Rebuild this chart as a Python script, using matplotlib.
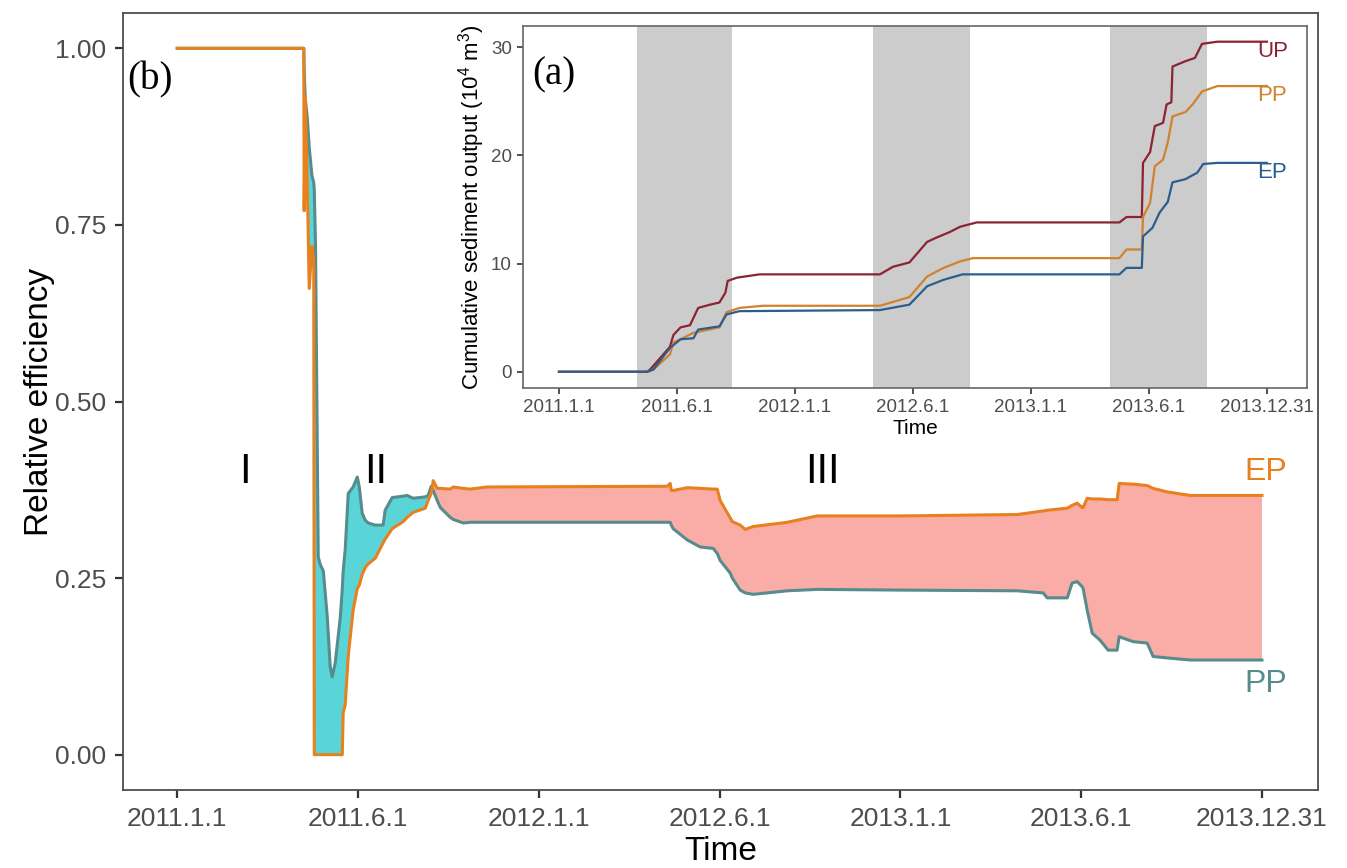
import numpy as np
import matplotlib
matplotlib.use("Agg")
import matplotlib.pyplot as plt

plt.rcParams['font.family'] = ['Liberation Sans', 'DejaVu Sans']
plt.rcParams['mathtext.default'] = 'regular'

# x positions are in half-year tick units: 0 = 2011.1.1 ... 6 = 2013.12.31
tick_labels = ['2011.1.1', '2011.6.1', '2012.1.1', '2012.6.1', '2013.1.1', '2013.6.1', '2013.12.31']

# ---- panel (b): relative efficiency
t = [0.00, 0.700, 0.702, 0.708, 0.720, 0.730, 0.745, 0.755, 0.758, 0.765,
     0.780, 0.790, 0.808, 0.830, 0.846, 0.857, 0.874, 0.902, 0.913, 0.918,
     0.929, 0.946, 0.973, 0.996, 1.007, 1.023, 1.040, 1.056, 1.095, 1.139,
     1.150, 1.189, 1.250, 1.272, 1.305, 1.372, 1.388, 1.405, 1.416, 1.438,
     1.455, 1.510, 1.527, 1.582, 1.621, 1.715, 2.710, 2.727, 2.733, 2.743,
     2.821, 2.893, 2.965, 2.987, 3.003, 3.059, 3.070, 3.114, 3.142, 3.186,
     3.374, 3.540, 4.000, 4.646, 4.790, 4.812, 4.923, 4.950, 4.978, 5.005,
     5.011, 5.033, 5.061, 5.105, 5.149, 5.199, 5.210, 5.288, 5.365, 5.398,
     5.476, 5.603, 6.000]
ep = [1.00, 1.00, 0.77, 0.93, 0.80, 0.66, 0.72, 0.70, 0.00, 0.00,
      0.00, 0.00, 0.00, 0.00, 0.00, 0.00, 0.00, 0.00, 0.00, 0.06,
      0.07, 0.14, 0.205, 0.235, 0.24, 0.255, 0.265, 0.27, 0.278, 0.30,
      0.305, 0.32, 0.33, 0.336, 0.343, 0.349, 0.36, 0.37, 0.388, 0.377,
      0.377, 0.376, 0.379, 0.377, 0.376, 0.379, 0.380, 0.384, 0.374, 0.374,
      0.378, 0.377, 0.376, 0.376, 0.36, 0.335, 0.33, 0.325, 0.319, 0.323,
      0.329, 0.338, 0.338, 0.34, 0.345, 0.346, 0.349, 0.353, 0.356, 0.35,
      0.35, 0.363, 0.362, 0.362, 0.361, 0.361, 0.384, 0.383, 0.381, 0.377,
      0.372, 0.367, 0.367]
pp = [1.00, 1.00, 0.97, 0.93, 0.90, 0.86, 0.82, 0.81, 0.80, 0.72,
      0.28, 0.27, 0.26, 0.195, 0.125, 0.11, 0.13, 0.195, 0.235, 0.26,
      0.29, 0.37, 0.379, 0.393, 0.379, 0.342, 0.332, 0.328, 0.325, 0.325,
      0.346, 0.364, 0.366, 0.367, 0.363, 0.365, 0.367, 0.38, 0.374, 0.36,
      0.35, 0.336, 0.333, 0.328, 0.329, 0.329, 0.329, 0.329, 0.325, 0.32,
      0.304, 0.294, 0.292, 0.285, 0.275, 0.257, 0.25, 0.233, 0.229, 0.227,
      0.232, 0.234, 0.233, 0.232, 0.229, 0.222, 0.222, 0.243, 0.245, 0.238,
      0.235, 0.205, 0.172, 0.162, 0.148, 0.148, 0.167, 0.16, 0.158, 0.139,
      0.137, 0.134, 0.134]

# ---- panel (a): cumulative sediment output (10^4 m^3)
up_x = [0, 0.75, 0.78, 0.94, 0.97, 1.03, 1.11, 1.18, 1.28, 1.36,
        1.41, 1.43, 1.51, 1.70, 2.72, 2.83, 2.97, 3.12, 3.20, 3.31,
        3.40, 3.54, 4.75, 4.81, 4.94, 4.95, 5.01, 5.05, 5.12, 5.15,
        5.19, 5.20, 5.31, 5.39, 5.45, 5.58, 6.0]
up_y = [0, 0, 0.3, 2.3, 3.4, 4.1, 4.3, 5.9, 6.2, 6.4,
        7.3, 8.4, 8.7, 9.0, 9.0, 9.7, 10.1, 12.0, 12.4, 12.9,
        13.4, 13.8, 13.8, 14.3, 14.3, 19.3, 20.3, 22.7, 23.0, 24.7,
        24.9, 28.2, 28.7, 29.0, 30.3, 30.5, 30.5]
ppc_x = [0, 0.75, 0.80, 0.94, 0.97, 1.14, 1.36, 1.42, 1.53, 1.73,
         2.72, 2.97, 3.12, 3.26, 3.40, 3.51, 4.75, 4.81, 4.94, 4.95,
         5.01, 5.05, 5.12, 5.16, 5.20, 5.31, 5.37, 5.45, 5.58, 6.0]
ppc_y = [0, 0, 0.2, 1.6, 2.7, 3.6, 4.1, 5.5, 5.9, 6.1,
         6.1, 6.9, 8.8, 9.6, 10.2, 10.5, 10.5, 11.3, 11.3, 14.3,
         15.6, 19.0, 19.6, 21.2, 23.6, 24.0, 24.7, 25.9, 26.4, 26.4]
epc_x = [0, 0.75, 0.80, 0.94, 1.03, 1.14, 1.18, 1.36, 1.42, 1.53,
         2.72, 2.97, 3.12, 3.26, 3.42, 4.75, 4.81, 4.94, 4.95, 5.03,
         5.09, 5.16, 5.20, 5.31, 5.41, 5.46, 5.58, 6.0]
epc_y = [0, 0, 0.2, 2.2, 3.0, 3.1, 3.9, 4.2, 5.3, 5.6,
         5.7, 6.2, 7.9, 8.5, 9.0, 9.0, 9.6, 9.6, 12.5, 13.3,
         14.7, 15.7, 17.5, 17.8, 18.4, 19.2, 19.3, 19.3]
wet_seasons = [(0.66, 1.47), (2.66, 3.48), (4.67, 5.49)]

t = np.array(t)
ep = np.array(ep)
pp = np.array(pp)

fig = plt.figure(figsize=(13.47, 8.68), dpi=100)

# main panel
ax = fig.add_axes([123/1347, 78/868, (1318-123)/1347, (790-13)/868])
ax.fill_between(t, ep, pp, where=pp >= ep, interpolate=True, color='#00BFC4', alpha=0.65, lw=0)
ax.fill_between(t, ep, pp, where=ep >= pp, interpolate=True, color='#F8766D', alpha=0.6, lw=0)
ax.plot(t, pp, color='#568C8E', lw=2.2)
ax.plot(t, ep, color='#E8801E', lw=2.2)
ax.set_xlim(-0.3, 6.31)
ax.set_ylim(-0.05, 1.05)
ax.set_xticks(range(7))
ax.set_xticklabels(tick_labels)
ax.set_yticks([0, 0.25, 0.5, 0.75, 1.0])
ax.set_yticklabels(['0.00', '0.25', '0.50', '0.75', '1.00'])
ax.tick_params(labelsize=19, labelcolor='#4D4D4D', color='#333333', length=6, width=1.6, pad=6)
ax.set_xlabel('Time', fontsize=24, labelpad=4)
ax.set_ylabel('Relative efficiency', fontsize=24, labelpad=0)
for s in ax.spines.values():
    s.set_color('#4D4D4D')
    s.set_linewidth(1.3)

ax.text(5.9, 0.40, 'EP', color='#E8801E', fontsize=23, ha='left', va='center')
ax.text(5.9, 0.10, 'PP', color='#568C8E', fontsize=23, ha='left', va='center')
for lab, xx in [('I', 0.376), ('II', 1.095), ('III', 3.57)]:
    ax.text(xx, 0.40, lab, fontsize=30, ha='center', va='center')
fig.text(127/1347, 1 - 80/868, '(b)', family='Liberation Serif', fontsize=28, ha='left', va='center')

# inset panel (a)
ins = fig.add_axes([523/1347, 1 - 388/868, (1307-523)/1347, (388-26)/868])
ins.set_facecolor('white')
for a, b in wet_seasons:
    ins.axvspan(a, b, color='#CCCCCC', lw=0, zorder=0)
ins.plot(up_x, up_y, color='#8B2332', lw=1.6)
ins.plot(ppc_x, ppc_y, color='#D0832C', lw=1.6)
ins.plot(epc_x, epc_y, color='#2B5D8E', lw=1.6)
ins.text(5.92, 29.6, 'UP', color='#8B2332', fontsize=16, ha='left', va='center')
ins.text(5.92, 25.5, 'PP', color='#D0832C', fontsize=16, ha='left', va='center')
ins.text(5.92, 18.4, 'EP', color='#2B5D8E', fontsize=16, ha='left', va='center')
ins.set_xlim(-0.305, 6.34)
ins.set_ylim(-1.5, 31.95)
ins.set_xticks(range(7))
ins.set_xticklabels(tick_labels)
ins.set_yticks([0, 10, 20, 30])
ins.tick_params(labelsize=13.5, labelcolor='#4D4D4D', color='#333333', length=4, width=1.2, pad=4)
ins.set_xlabel('Time', fontsize=15, labelpad=2)
ins.set_ylabel('Cumulative sediment output (10$^4$ m$^3$)', fontsize=16, labelpad=3)
for s in ins.spines.values():
    s.set_color('#666666')
    s.set_linewidth(1.2)
ins.text(0.012, 0.915, '(a)', transform=ins.transAxes, family='Liberation Serif',
         fontsize=28, ha='left', va='top')

fig.savefig('out.png', dpi=100)
